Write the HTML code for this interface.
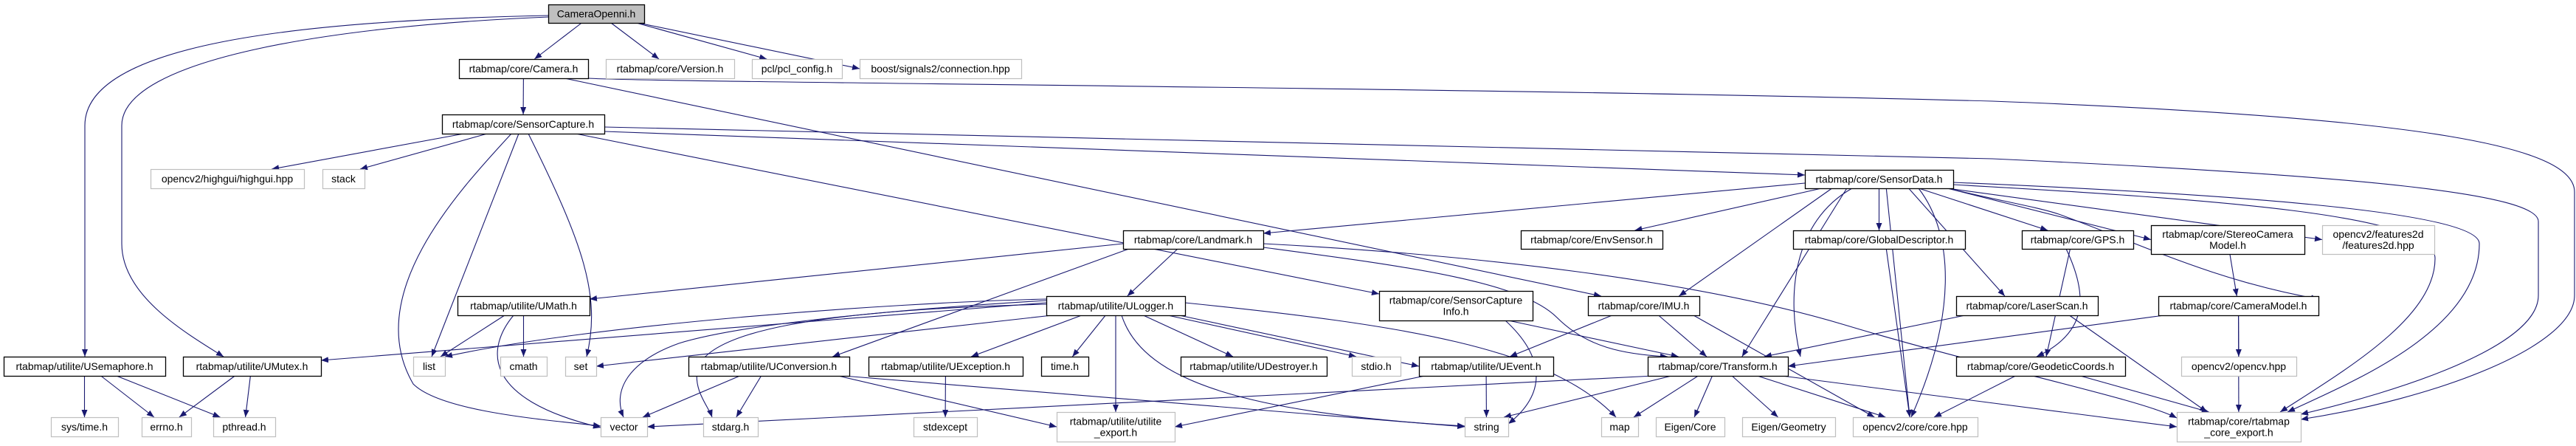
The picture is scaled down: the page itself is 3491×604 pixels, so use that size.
<!DOCTYPE html>
<html><head><meta charset="utf-8"><style>
html,body{margin:0;padding:0;background:#fff;width:3491px;height:604px;overflow:hidden}
svg text{font-family:"Liberation Sans",sans-serif;font-size:14px;fill:#000}
</style></head><body>
<svg id="g" width="3491" height="604" viewBox="0 0 3491 604" xmlns="http://www.w3.org/2000/svg">
<defs><marker id="a" markerUnits="userSpaceOnUse" markerWidth="11" markerHeight="8" refX="10" refY="4" orient="auto"><path d="M0,0 L10,4 L0,8 z" fill="#191970"/></marker></defs>
<g id="E" fill="none" stroke="#191970" stroke-width="1.1"></g>
<g id="N"></g>
</svg>
<script>
var N={
CO:[743,6,873,31,["CameraOpenni.h"],2],
CAM:[622,80,797,106,["rtabmap/core/Camera.h"],1],
VER:[821,80,995,106,["rtabmap/core/Version.h"],0],
PCL:[1019,80,1141,106,["pcl/pcl_config.h"],0],
BOOST:[1165,80,1384,106,["boost/signals2/connection.hpp"],0],
SC:[599,155,819,181,["rtabmap/core/SensorCapture.h"],1],
HG:[204,229,412,255,["opencv2/highgui/highgui.hpp"],0],
STACK:[437,229,494,255,["stack"],0],
SD:[2446,230,2647,255,["rtabmap/core/SensorData.h"],1],
LM:[1522,312,1712,337,["rtabmap/core/Landmark.h"],1],
ENV:[2061,312,2253,337,["rtabmap/core/EnvSensor.h"],1],
GD:[2430,312,2663,337,["rtabmap/core/GlobalDescriptor.h"],1],
GPS:[2740,312,2891,337,["rtabmap/core/GPS.h"],1],
STEREO:[2915,305,3123,344,["rtabmap/core/StereoCamera","Model.h"],1],
F2D:[3147,305,3299,344,["opencv2/features2d","/features2d.hpp"],0],
UMATH:[620,401,799,427,["rtabmap/utilite/UMath.h"],1],
ULOG:[1418,401,1606,427,["rtabmap/utilite/ULogger.h"],1],
SCI:[1869,394,2077,434,["rtabmap/core/SensorCapture","Info.h"],1],
IMU:[2152,401,2303,427,["rtabmap/core/IMU.h"],1],
LS:[2651,401,2843,427,["rtabmap/core/LaserScan.h"],1],
CM:[2925,401,3142,427,["rtabmap/core/CameraModel.h"],1],
USEM:[5,483,224,509,["rtabmap/utilite/USemaphore.h"],1],
UMUT:[248,483,435,509,["rtabmap/utilite/UMutex.h"],1],
LIST:[560,483,603,509,["list"],0],
CMATH:[678,483,741,509,["cmath"],0],
SET:[766,483,808,509,["set"],0],
UCONV:[933,483,1151,509,["rtabmap/utilite/UConversion.h"],1],
UEXC:[1177,483,1386,509,["rtabmap/utilite/UException.h"],1],
TIME:[1411,483,1475,509,["time.h"],1],
UDES:[1600,483,1798,509,["rtabmap/utilite/UDestroyer.h"],1],
STDIO:[1832,483,1898,509,["stdio.h"],0],
UEV:[1923,483,2105,509,["rtabmap/utilite/UEvent.h"],1],
TR:[2233,483,2423,509,["rtabmap/core/Transform.h"],1],
GEO:[2651,483,2880,509,["rtabmap/core/GeodeticCoords.h"],1],
OCV:[2956,483,3112,509,["opencv2/opencv.hpp"],0],
SYST:[69,565,160,591,["sys/time.h"],0],
ERRNO:[192,565,259,591,["errno.h"],0],
PTH:[289,565,373,591,["pthread.h"],0],
VEC:[814,565,877,591,["vector"],0],
STDARG:[953,565,1027,591,["stdarg.h"],0],
STDEXC:[1238,565,1324,591,["stdexcept"],0],
UEXP:[1432,558,1592,598,["rtabmap/utilite/utilite","_export.h"],0],
STR:[1985,565,2044,591,["string"],0],
MAP:[2170,565,2220,591,["map"],0],
ECORE:[2244,565,2337,591,["Eigen/Core"],0],
EGEO:[2361,565,2487,591,["Eigen/Geometry"],0],
CORE:[2511,565,2680,591,["opencv2/core/core.hpp"],0],
CEXP:[2950,558,3118,598,["rtabmap/core/rtabmap","_core_export.h"],0]
};
var edges="CO>CAM CO>VER CO>PCL CO>BOOST CAM>SC SC>HG SC>STACK SD>ENV SD>GD SD>IMU SD>TR SD>LS SD>GPS SD>STEREO SD>F2D SD>CORE LM>ULOG LM>UCONV ULOG>SET ULOG>UEXC ULOG>TIME ULOG>UEXP ULOG>UDES ULOG>STDIO ULOG>UEV UMATH>LIST UMATH>CMATH UCONV>STDARG UCONV>VEC UCONV>UEXP UEXC>STDEXC UEV>STR UEV>UEXP IMU>UEV IMU>TR IMU>CORE SCI>TR TR>VEC TR>STR TR>MAP TR>ECORE TR>EGEO TR>CORE TR>CEXP LS>TR LS>CEXP CM>TR CM>OCV CM>CEXP STEREO>CM GPS>GEO GEO>CORE GEO>CEXP GD>CORE USEM>SYST USEM>ERRNO USEM>PTH UMUT>ERRNO UMUT>PTH UCONV>STR".split(" ");
var paths=[
"M743,21 C400,28 115,60 115,170 L115,483",
"M743,23 C450,35 165,80 165,170 L165,330 C165,400 250,450 303,483",
"M797,106 C900,112 2000,118 2700,137 C3300,160 3489,200 3489,260 L3489,400 C3489,470 3300,540 3118,568",
"M819,172 L2700,215 C3200,238 3440,262 3440,300 L3440,400 C3440,470 3250,530 3118,561",
"M2647,247 C3000,262 3360,285 3360,330 C3360,450 3180,520 3100,558",
"M2647,250 C3000,270 3300,290 3300,350 C3300,430 3180,500 3090,558",
"M819,178 L2446,237",
"M2446,248 L1712,316",
"M1522,330 L799,405",
"M780,181 L1869,398",
"M765,106 L2170,401",
"M693,181 C620,260 490,400 560,520 C600,560 760,570 814,577",
"M703,181 L585,483",
"M716,181 C790,330 815,400 795,483",
"M696,427 C660,470 650,540 814,579",
"M1418,410 L435,488",
"M1418,405 C1200,410 800,440 603,483",
"M1418,407 C1200,420 1000,440 920,465 C850,490 830,530 845,565",
"M1418,412 C1100,420 960,450 945,500 C940,530 960,550 965,565",
"M1520,427 C1550,520 1700,560 1985,577",
"M1606,410 C1900,440 2100,470 2190,565",
"M1712,335 C1900,360 2060,380 2110,430 C2150,470 2200,480 2260,483",
"M1712,330 C2000,345 2300,380 2500,440 C2700,500 2900,540 2950,566",
"M2040,434 C2090,480 2100,530 2044,574",
"M2640,255 C2700,270 2760,280 2790,290 C2900,330 3000,380 3142,405",
"M2510,255 C2430,300 2420,400 2440,483",
"M2600,255 C2650,320 2650,430 2590,565",
"M2800,337 C2830,400 2830,450 2760,483"
];
var E=document.getElementById("E"),G=document.getElementById("N"),ns="http://www.w3.org/2000/svg";
function P(d){var p=document.createElementNS(ns,"path");p.setAttribute("d",d);p.setAttribute("marker-end","url(#a)");E.appendChild(p);}
edges.forEach(function(e){var s=N[e.split(">")[0]],t=N[e.split(">")[1]];
 var scx=(s[0]+s[2])/2,tcx=(t[0]+t[2])/2,tcy=(t[1]+t[3])/2;
 var sx=scx+(tcx-scx)*0.2;sx=Math.max(s[0]+8,Math.min(s[2]-8,sx));
 var sy=s[3],ex=tcx,ey=t[1];
 if(Math.abs(tcx-scx)>5*Math.abs(t[1]-s[3])+200){ey=tcy;ex=tcx<scx?t[2]:t[0];}
 else{ex=tcx+(scx-tcx)*0.15;ex=Math.max(t[0]+6,Math.min(t[2]-6,ex));}
 P("M"+sx+","+sy+" L"+ex+","+ey);});
paths.forEach(P);
for(var k in N){var n=N[k];var r=document.createElementNS(ns,"rect");
 r.setAttribute("x",n[0]+.5);r.setAttribute("y",n[1]+.5);r.setAttribute("width",n[2]-n[0]);r.setAttribute("height",n[3]-n[1]);
 r.setAttribute("fill",n[5]==2?"#bfbfbf":"#fff");r.setAttribute("stroke",n[5]?"#000":"#bfbfbf");r.setAttribute("stroke-width",n[5]?"1.3":"1.2");G.appendChild(r);
 var L=n[4],cx=(n[0]+n[2])/2,cy=(n[1]+n[3])/2;
 L.forEach(function(s,i){var t=document.createElementNS(ns,"text");t.setAttribute("x",cx);
  t.setAttribute("y",cy+5+(i-(L.length-1)/2)*15);t.setAttribute("text-anchor","middle");t.textContent=s;
  G.appendChild(t);var w=t.getComputedTextLength(),mw=(n[2]-n[0])-14;
  if(w>mw){t.setAttribute("textLength",mw);t.setAttribute("lengthAdjust","spacingAndGlyphs");}});}
</script>
</body></html>
